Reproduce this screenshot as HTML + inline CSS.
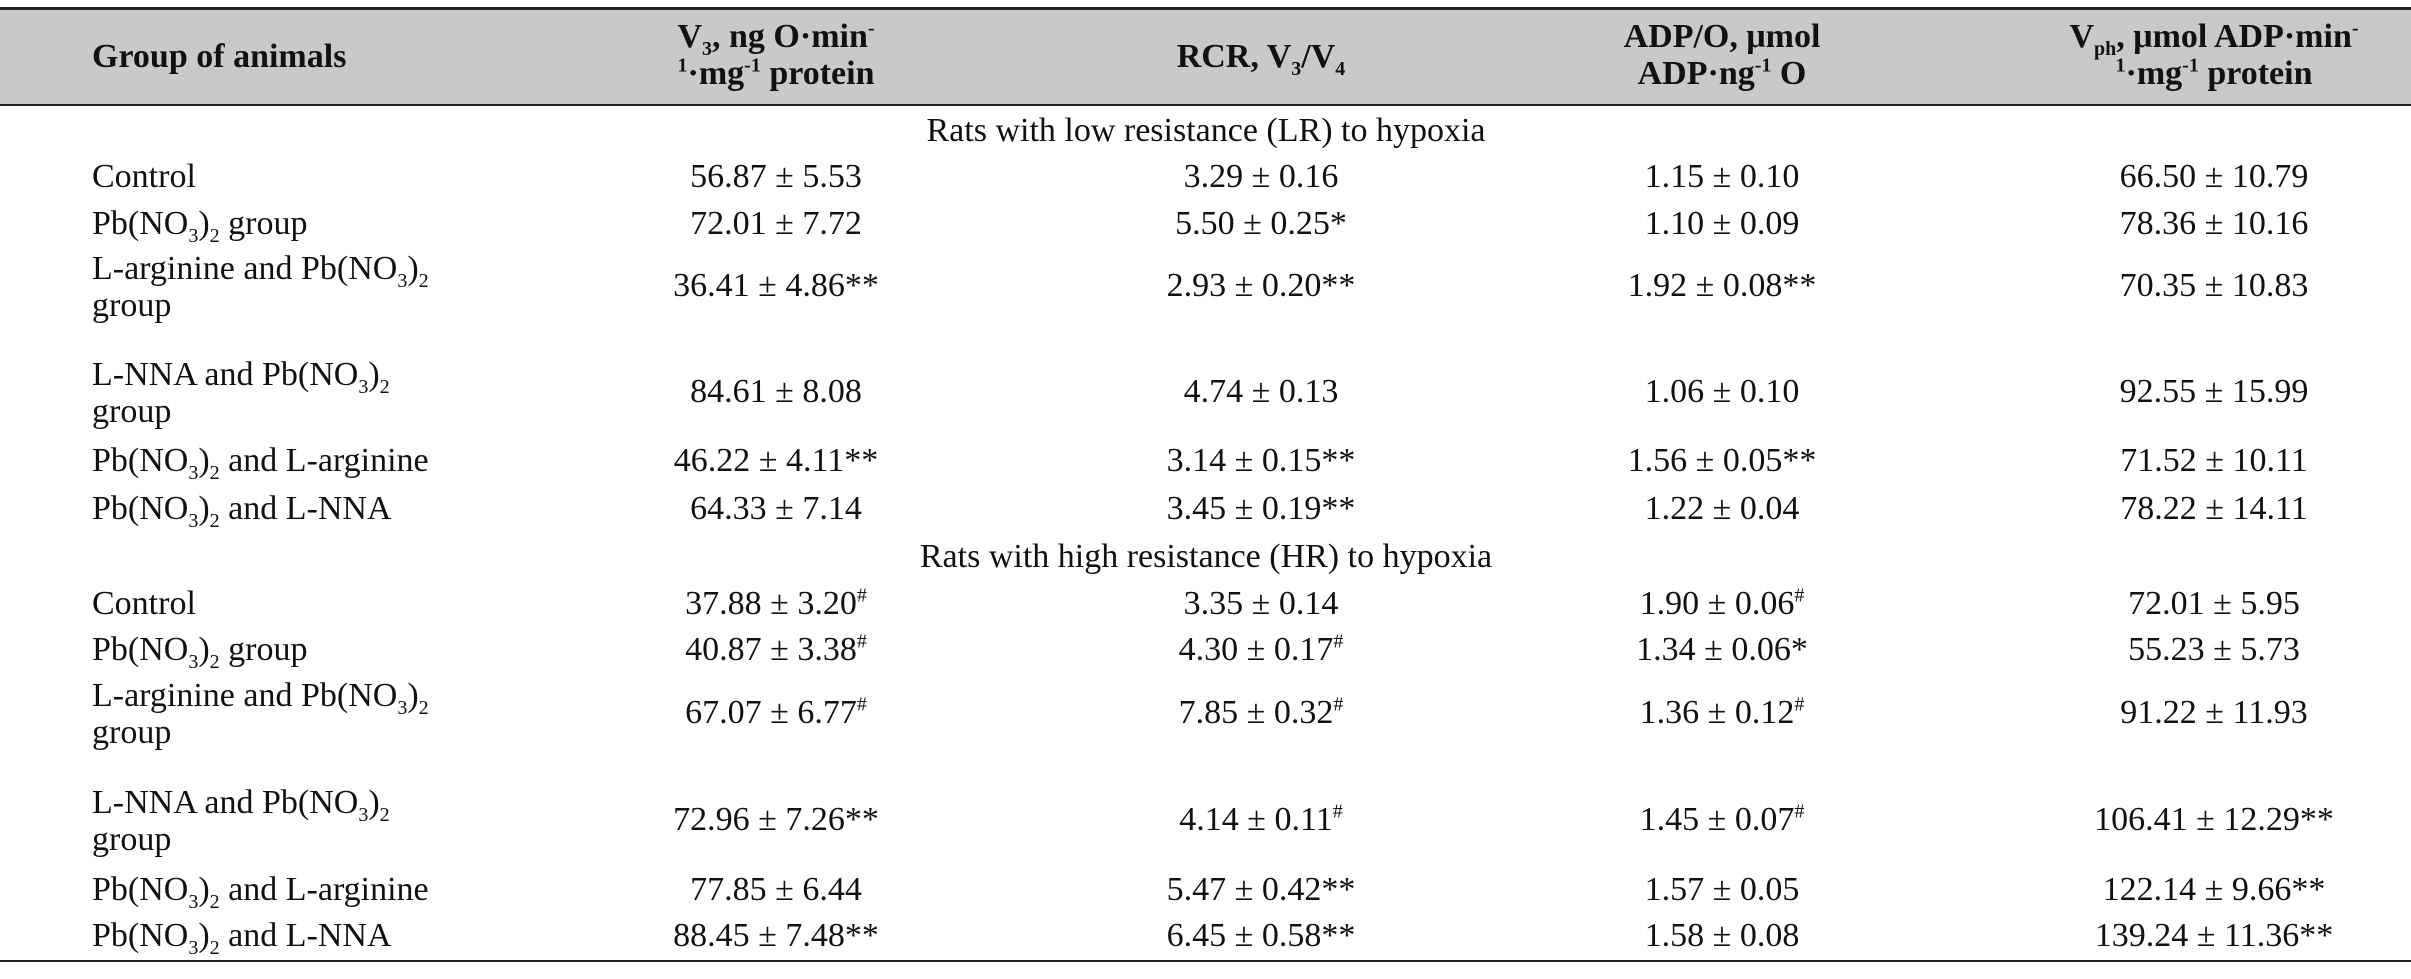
<!DOCTYPE html>
<html><head><meta charset="utf-8"><style>
body{margin:0;width:2411px;height:979px;background:#fff;position:relative;overflow:hidden;font-family:"Liberation Serif","DejaVu Serif",serif;color:#111}
.t{position:absolute;font-size:34px;line-height:37px;white-space:nowrap}
.c{transform:translateX(-50%);text-align:center}
.b{font-weight:bold}
sup{font-size:20px;line-height:0;vertical-align:super}
sub{font-size:20px;line-height:0}
.line{position:absolute;left:0;width:2411px;background:#222}
</style></head><body>
<div style="position:absolute;left:0;top:9px;width:2411px;height:96px;background:#c9c9c9"></div>
<div class="line" style="top:7px;height:3px"></div>
<div class="line" style="top:104px;height:2px"></div>
<div class="line" style="top:960px;height:2px"></div>

<div class="t b" style="left:92px;top:38px">Group of animals</div>
<div class="t b c" style="left:776px;top:18px">V<sub>3</sub>, ng O·min<sup>-</sup><br><sup>1</sup>·mg<sup>-1</sup> protein</div>
<div class="t b c" style="left:1261px;top:38px">RCR, V<sub>3</sub>/V<sub>4</sub></div>
<div class="t b c" style="left:1722px;top:18px">ADP/O, μmol<br>ADP·ng<sup>-1</sup> O</div>
<div class="t b c" style="left:2214px;top:18px">V<sub>ph</sub>, μmol ADP·min<sup>-</sup><br><sup>1</sup>·mg<sup>-1</sup> protein</div>

<div id="rows"></div>
<script>
const rows=[
["Control",177,null,"56.87 ± 5.53","3.29 ± 0.16","1.15 ± 0.10","66.50 ± 10.79"],
["Pb(NO<sub>3</sub>)<sub>2</sub> group",224,null,"72.01 ± 7.72","5.50 ± 0.25*","1.10 ± 0.09","78.36 ± 10.16"],
["L-arginine and Pb(NO<sub>3</sub>)<sub>2</sub><br>group",286,1,"36.41 ± 4.86**","2.93 ± 0.20**","1.92 ± 0.08**","70.35 ± 10.83"],
["L-NNA and Pb(NO<sub>3</sub>)<sub>2</sub><br>group",392,1,"84.61 ± 8.08","4.74 ± 0.13","1.06 ± 0.10","92.55 ± 15.99"],
["Pb(NO<sub>3</sub>)<sub>2</sub> and L-arginine",461,null,"46.22 ± 4.11**","3.14 ± 0.15**","1.56 ± 0.05**","71.52 ± 10.11"],
["Pb(NO<sub>3</sub>)<sub>2</sub> and L-NNA",509,null,"64.33 ± 7.14","3.45 ± 0.19**","1.22 ± 0.04","78.22 ± 14.11"],
["Control",604,null,"37.88 ± 3.20<sup>#</sup>","3.35 ± 0.14","1.90 ± 0.06<sup>#</sup>","72.01 ± 5.95"],
["Pb(NO<sub>3</sub>)<sub>2</sub> group",650,null,"40.87 ± 3.38<sup>#</sup>","4.30 ± 0.17<sup>#</sup>","1.34 ± 0.06*","55.23 ± 5.73"],
["L-arginine and Pb(NO<sub>3</sub>)<sub>2</sub><br>group",713,1,"67.07 ± 6.77<sup>#</sup>","7.85 ± 0.32<sup>#</sup>","1.36 ± 0.12<sup>#</sup>","91.22 ± 11.93"],
["L-NNA and Pb(NO<sub>3</sub>)<sub>2</sub><br>group",820,1,"72.96 ± 7.26**","4.14 ± 0.11<sup>#</sup>","1.45 ± 0.07<sup>#</sup>","106.41 ± 12.29**"],
["Pb(NO<sub>3</sub>)<sub>2</sub> and L-arginine",890,null,"77.85 ± 6.44","5.47 ± 0.42**","1.57 ± 0.05","122.14 ± 9.66**"],
["Pb(NO<sub>3</sub>)<sub>2</sub> and L-NNA",936,null,"88.45 ± 7.48**","6.45 ± 0.58**","1.58 ± 0.08","139.24 ± 11.36**"]];
const sections=[["Rats with low resistance (LR) to hypoxia",131],["Rats with high resistance (HR) to hypoxia",557]];
const colX=[776,1261,1722,2214];
const R=document.getElementById('rows');
function add(html,x,y,center,name){const d=document.createElement('div');d.className='t'+(center?' c':'');d.style.left=x+'px';d.style.top=y+'px';d.innerHTML=html;


R.appendChild(d);}
sections.forEach((s,i)=>add(s[0],1206,s[1]-19,true,'section-title-'+(i?'hr':'lr')));
rows.forEach((r,i)=>{const y=r[1];
add(r[0],92,r[2]?y-36:y-19,false,'row-label-'+(i+1));
for(let k=0;k<4;k++)add(r[3+k],colX[k],y-19,true,'cell-r'+(i+1)+'-c'+(k+2));});
</script>
</body></html>
